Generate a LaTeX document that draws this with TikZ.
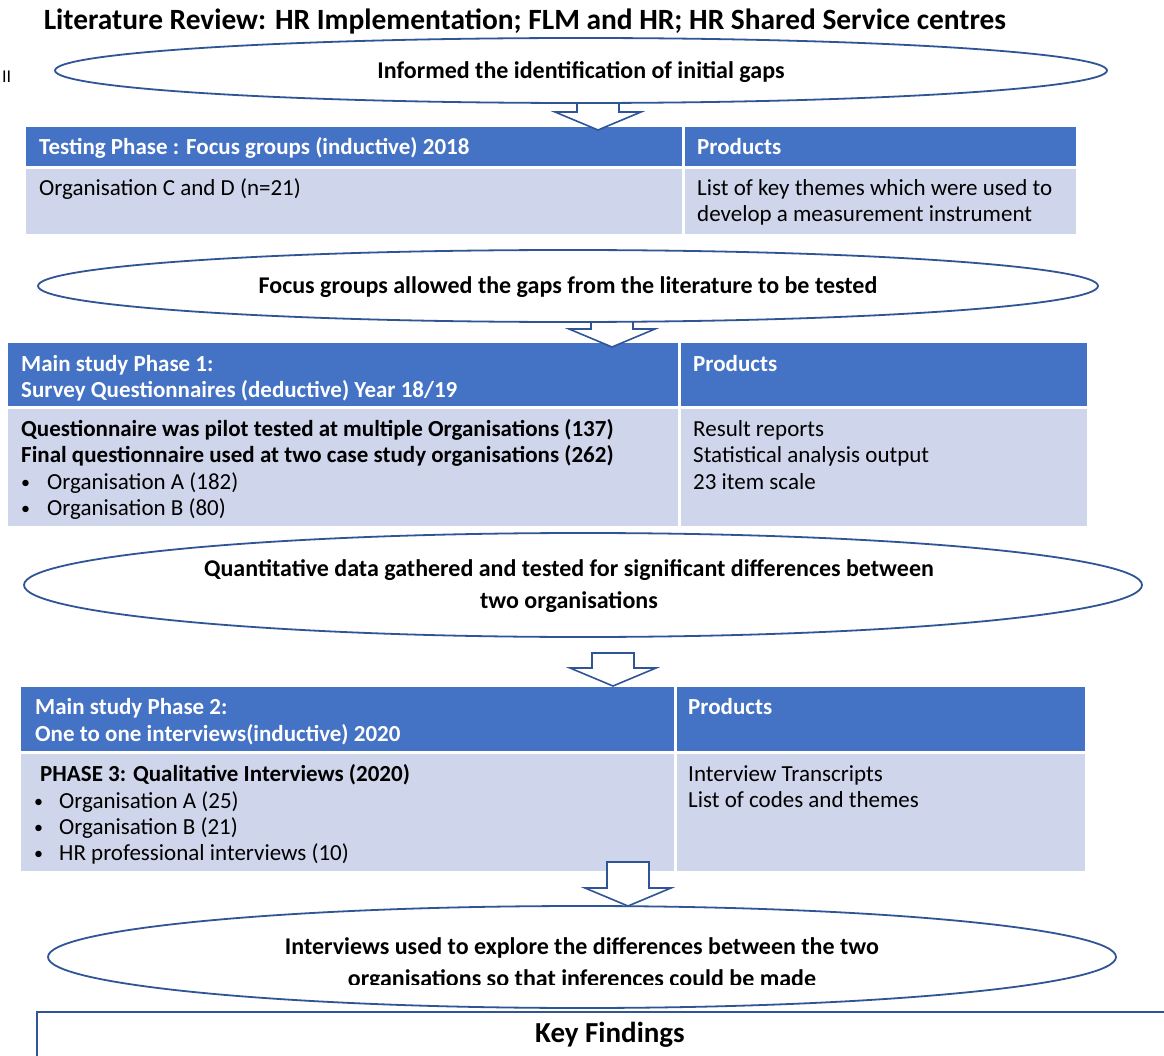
\documentclass[tikz,border=0pt]{standalone}
\usepackage{fontspec}
\setmainfont{Carlito}
\usetikzlibrary{shapes.geometric}
\definecolor{hdr}{HTML}{4472C4}
\definecolor{cellbg}{HTML}{CFD5EA}
\definecolor{edge}{HTML}{2F5597}
\begin{document}
\begin{tikzpicture}[x=1pt,y=-1pt,
  bubble/.style={ellipse, draw=edge, line width=1.8pt, fill=white, inner sep=0, outer sep=0},
  cell/.style={anchor=north west, draw=white, line width=3pt, inner sep=0, outer sep=0},
  hcell/.style={cell, fill=hdr},
  bcell/.style={cell, fill=cellbg},
  txt/.style={anchor=base west, inner sep=0, font=\fontsize{23}{26}\selectfont},
  btxt/.style={txt, font=\fontsize{23}{26}\selectfont\bfseries},
  htxt/.style={btxt, text=white},
  bul/.style={anchor=base west, inner sep=0, font=\fontsize{18}{26}\selectfont},
  ctxt/.style={anchor=base, inner sep=0, font=\fontsize{24}{28}\selectfont\bfseries},
  pics/blockarrow/.style={code={
    \draw[edge, line width=1.6pt, fill=white, line join=miter]
      (-21,-#1) -- (-21,-18) -- (-43,-18) -- (0,0) -- (43,-18) -- (21,-18) -- (21,-#1) -- cycle;}}
]
\useasboundingbox[fill=white] (0,0) rectangle (1164,1056);

% heading
\node[anchor=base, inner sep=0, font=\fontsize{29.4}{32}\selectfont\bfseries] (title) at (525,30)
  {Literature Review: HR Implementation; FLM and HR; HR Shared Service centres};
\node[txt, font=\fontsize{18}{20}\selectfont] (mark) at (2,83) {II};

% testing phase table
\node[hcell, minimum width=658.5, minimum height=42] (t1h1) at (24.5,125.5) {};
\node[hcell, minimum width=394.5, minimum height=42] (t1h2) at (683,125.5) {};
\node[bcell, minimum width=658.5, minimum height=68] (t1b1) at (24.5,167.5) {};
\node[bcell, minimum width=394.5, minimum height=68] (t1b2) at (683,167.5) {};

% main study phase 1 table
\node[hcell, minimum width=672.5, minimum height=65.5] (t2h1) at (6.5,341.5) {};
\node[hcell, minimum width=409.5, minimum height=65.5] (t2h2) at (679,341.5) {};
\node[bcell, minimum width=672.5, minimum height=120.5] (t2b1) at (6.5,407) {};
\node[bcell, minimum width=409.5, minimum height=120.5] (t2b2) at (679,407) {};

% main study phase 2 table
\node[hcell, minimum width=655.5, minimum height=66.5] (t3h1) at (19.5,685.5) {};
\node[hcell, minimum width=411.5, minimum height=66.5] (t3h2) at (675,685.5) {};
\node[bcell, minimum width=655.5, minimum height=120.5] (t3b1) at (19.5,752) {};
\node[bcell, minimum width=411.5, minimum height=120.5] (t3b2) at (675,752) {};

% block arrows between the stages
\coordinate (a1) at (598,130);
\coordinate (a2) at (612,347);
\coordinate (a3) at (613,686);
\coordinate (a4) at (628,906);
\pic at (a1) {blockarrow=36};
\pic at (a2) {blockarrow=36};
\pic at (a3) {blockarrow=33};
\pic at (a4) {blockarrow=44};

% ellipses
\node[bubble, minimum width=1052, minimum height=65] (e1) at (581,70.5) {};
\node[bubble, minimum width=1060, minimum height=72] (e2) at (568,286) {};
\node[bubble, minimum width=1118, minimum height=104] (e3) at (583,585) {};
\node[bubble, minimum width=1068, minimum height=102] (e4) at (582,957) {};

% ellipse captions
\node[ctxt] (e1t) at (581,79) {Informed the identification of initial gaps};
\node[ctxt] (e2t) at (568,294) {Focus groups allowed the gaps from the literature to be tested};
\node[ctxt] (e3t1) at (569,576) {Quantitative data gathered and tested for significant differences between};
\node[ctxt] (e3t2) at (569,608) {two organisations};
\node[ctxt] (e4t1) at (582,954) {Interviews used to explore the differences between the two};
\begin{scope}
  \clip (0,0) rectangle (1164,984);
  \node[ctxt] (e4t2) at (582,986) {organisations so that inferences could be made};
\end{scope}

% testing phase texts
\node[htxt] (t1a) at (39,155) {Testing Phase : Focus groups (inductive) 2018};
\node[htxt] (t1b) at (697,155) {Products};
\node[txt] (t1c) at (39,196) {Organisation C and D (n=21)};
\node[txt] (t1d) at (697,196) {List of key themes which were used to};
\node[txt] (t1e) at (697,222) {develop a measurement instrument};

% phase 1 texts
\node[htxt] (t2a) at (21,371) {Main study Phase 1:};
\node[htxt] (t2b) at (21,397) {Survey Questionnaires (deductive) Year 18/19};
\node[htxt] (t2c) at (693,371) {Products};
\node[btxt] (t2d) at (21,436) {Questionnaire was pilot tested at multiple Organisations (137)};
\node[btxt] (t2e) at (21,462) {Final questionnaire used at two case study organisations (262)};
\node[bul] (t2f) at (21,488) {•};
\node[txt] (t2g) at (47,489) {Organisation A (182)};
\node[bul] (t2h) at (21,514) {•};
\node[txt] (t2i) at (47,515) {Organisation B (80)};
\node[txt] (t2j) at (693,436) {Result reports};
\node[txt] (t2k) at (693,462) {Statistical analysis output};
\node[txt] (t2l) at (693,489) {23 item scale};

% phase 2 texts
\node[htxt] (t3a) at (35,714) {Main study Phase 2:};
\node[htxt] (t3b) at (35,741) {One to one interviews(inductive) 2020};
\node[htxt] (t3c) at (688,714) {Products};
\node[btxt] (t3d) at (40,781) {PHASE 3: Qualitative Interviews (2020)};
\node[bul] (t3e) at (34,807) {•};
\node[txt] (t3f) at (59,808) {Organisation A (25)};
\node[bul] (t3g) at (34,833) {•};
\node[txt] (t3h) at (59,834) {Organisation B (21)};
\node[bul] (t3i) at (34,859) {•};
\node[txt] (t3j) at (59,860) {HR professional interviews (10)};
\node[txt] (t3k) at (688,781) {Interview Transcripts};
\node[txt] (t3l) at (688,807) {List of codes and themes};

% key findings frame
\draw[edge, line width=1.6pt] (37,1070) -- (37,1012) -- (1175,1012);
\node[anchor=base, inner sep=0, font=\fontsize{29}{32}\selectfont\bfseries] (kf) at (610,1042) {Key Findings};
\end{tikzpicture}
\end{document}
